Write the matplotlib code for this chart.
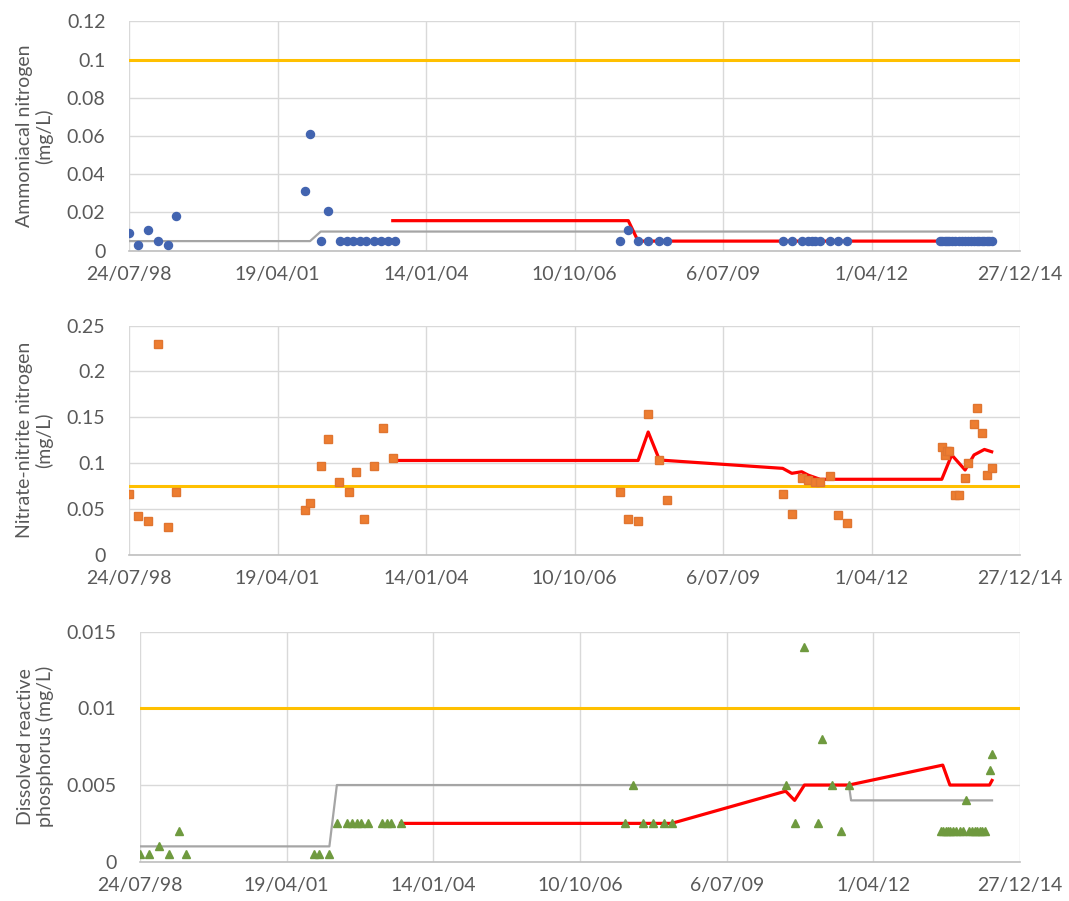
import numpy as np
import matplotlib
matplotlib.use('Agg')
import matplotlib.pyplot as plt
import matplotlib.dates as mdates
from matplotlib.ticker import FuncFormatter

plt.rcParams['font.family'] = ['Lato', 'DejaVu Sans']

# date axis, one major unit = 1000 days
tick_dates = ['1998-07-24', '2001-04-19', '2004-01-14', '2006-10-10',
              '2009-07-06', '2012-04-01', '2014-12-27']
tick_labels = ['24/07/98', '19/04/01', '14/01/04', '10/10/06',
               '6/07/09', '1/04/12', '27/12/14']

# ---- ammoniacal nitrogen (mg/L)
nh4_dates = ['1998-07-24', '1998-09-25', '1998-11-27', '1999-02-04', '1999-04-15', '1999-06-03',
             '2001-10-19', '2001-11-24', '2002-02-04', '2002-03-27', '2002-06-14', '2002-07-31',
             '2002-09-09', '2002-10-27', '2002-12-06', '2003-01-29', '2003-03-17', '2003-05-03',
             '2003-06-19',
             '2007-08-14', '2007-10-07', '2007-12-12', '2008-02-18', '2008-05-04', '2008-06-25',
             '2010-08-12', '2010-10-12', '2010-12-18', '2011-01-31', '2011-02-23', '2011-03-18',
             '2011-04-20', '2011-06-27', '2011-08-21', '2011-10-17',
             '2013-07-04', '2013-07-18', '2013-08-09', '2013-08-20', '2013-09-05', '2013-09-23',
             '2013-10-15', '2013-11-11', '2013-12-02', '2013-12-22', '2014-01-13', '2014-01-31',
             '2014-02-20', '2014-03-10', '2014-03-27', '2014-04-13', '2014-05-01', '2014-05-17',
             '2014-06-02', '2014-06-19']
nh4_vals = [0.009, 0.003, 0.011, 0.005, 0.003, 0.018,
            0.031, 0.061, 0.005, 0.021, 0.005, 0.005,
            0.005, 0.005, 0.005, 0.005, 0.005, 0.005,
            0.005,
            0.005, 0.011, 0.005, 0.005, 0.005, 0.005,
            0.005, 0.005, 0.005, 0.005, 0.005, 0.005,
            0.005, 0.005, 0.005, 0.005,
            0.005, 0.005, 0.005, 0.005, 0.005, 0.005,
            0.005, 0.005, 0.005, 0.005, 0.005, 0.005,
            0.005, 0.005, 0.005, 0.005, 0.005, 0.005,
            0.005, 0.005]
nh4_trend_dates = ['2003-06-04', '2007-10-07', '2007-12-12', '2014-06-19']
nh4_trend_vals = [0.0157, 0.0157, 0.005, 0.005]
nh4_limit_dates = ['1998-07-24', '2001-11-24', '2002-02-04', '2014-06-19']
nh4_limit_vals = [0.005, 0.005, 0.010, 0.010]
nh4_guideline = 0.1

# ---- nitrate-nitrite nitrogen (mg/L)
nox_dates = ['1998-07-24', '1998-09-25', '1998-11-27', '1999-02-04', '1999-04-15', '1999-06-03',
             '2001-10-19', '2001-11-24', '2002-02-04', '2002-03-27', '2002-06-07', '2002-08-13',
             '2002-09-30', '2002-11-23', '2003-01-31', '2003-04-01', '2003-06-04',
             '2007-08-14', '2007-10-07', '2007-12-12', '2008-02-18', '2008-05-04', '2008-06-25',
             '2010-08-12', '2010-10-12', '2010-12-18', '2011-01-31', '2011-03-18', '2011-04-20',
             '2011-06-27', '2011-08-21', '2011-10-17',
             '2013-07-18', '2013-08-09', '2013-08-20', '2013-09-05', '2013-10-15', '2013-11-11',
             '2013-12-22', '2014-01-13', '2014-02-20', '2014-03-10', '2014-04-13', '2014-05-17',
             '2014-06-19']
nox_vals = [0.066, 0.043, 0.037, 0.230, 0.031, 0.069,
            0.049, 0.057, 0.097, 0.126, 0.080, 0.069,
            0.090, 0.039, 0.097, 0.138, 0.106,
            0.069, 0.039, 0.037, 0.154, 0.104, 0.060,
            0.067, 0.045, 0.084, 0.082, 0.079, 0.079,
            0.086, 0.044, 0.035,
            0.118, 0.109, 0.113, 0.113, 0.065, 0.065,
            0.084, 0.100, 0.143, 0.160, 0.133, 0.087,
            0.095]
nox_trend_dates = ['2003-06-04', '2007-12-12', '2008-02-18', '2008-05-04', '2010-08-12',
                   '2010-10-12', '2010-12-18', '2011-01-31', '2011-04-20', '2013-07-18',
                   '2013-09-23', '2013-12-22', '2014-02-20', '2014-05-01', '2014-06-19']
nox_trend_vals = [0.103, 0.103, 0.134, 0.1035, 0.0944,
                  0.089, 0.0907, 0.087, 0.0825, 0.0825,
                  0.109, 0.0926, 0.109, 0.115, 0.1125]
nox_guideline = 0.075

# ---- dissolved reactive phosphorus (mg/L)
drp_dates = ['1998-07-24', '1998-09-25', '1998-11-27', '1999-02-04', '1999-04-15', '1999-06-03',
             '2001-10-19', '2001-11-24', '2002-02-04', '2002-03-27', '2002-06-07', '2002-07-11',
             '2002-08-13', '2002-09-09', '2002-10-27', '2003-01-31', '2003-03-03', '2003-04-01',
             '2003-06-04',
             '2007-08-14', '2007-10-07', '2007-12-12', '2008-02-18', '2008-05-04', '2008-06-25',
             '2010-08-12', '2010-10-12', '2010-12-18', '2011-03-18', '2011-04-20', '2011-06-27',
             '2011-08-21', '2011-10-17',
             '2013-07-04', '2013-07-18', '2013-08-09', '2013-08-20', '2013-09-05', '2013-09-23',
             '2013-10-15', '2013-11-11', '2013-12-02', '2013-12-22', '2014-01-13', '2014-01-31',
             '2014-02-20', '2014-03-10', '2014-03-27', '2014-04-13', '2014-05-01', '2014-06-02',
             '2014-06-19']
drp_vals = [0.0005, 0.0005, 0.001, 0.0005, 0.002, 0.0005,
            0.0005, 0.0005, 0.0005, 0.0025, 0.0025, 0.0025,
            0.0025, 0.0025, 0.0025, 0.0025, 0.0025, 0.0025,
            0.0025,
            0.0025, 0.005, 0.0025, 0.0025, 0.0025, 0.0025,
            0.005, 0.0025, 0.014, 0.0025, 0.008, 0.005,
            0.002, 0.005,
            0.002, 0.002, 0.002, 0.002, 0.002, 0.002,
            0.002, 0.002, 0.002, 0.004, 0.002, 0.002,
            0.002, 0.002, 0.002, 0.002, 0.002, 0.006,
            0.007]
drp_trend_dates = ['2003-06-04', '2008-06-25', '2010-08-12', '2010-10-12', '2010-12-18',
                   '2011-10-17', '2013-07-18', '2013-09-05', '2014-06-02', '2014-06-19']
drp_trend_vals = [0.0025, 0.0025, 0.0046, 0.004, 0.005,
                  0.005, 0.0063, 0.005, 0.005, 0.0053]
drp_limit_dates = ['1998-07-24', '2002-02-04', '2002-03-27', '2011-10-17', '2011-11-01', '2014-06-19']
drp_limit_vals = [0.001, 0.001, 0.005, 0.005, 0.004, 0.004]
drp_guideline = 0.01

txt_col = '#595959'
grid_col = '#D9D9D9'


def to_num(dates):
    return mdates.datestr2num(dates)


def style_axes(ax, ymax, ystep, ylabel, label_x):
    ax.set_xlim(to_num(tick_dates[0]), to_num(tick_dates[-1]))
    ax.set_ylim(0, ymax)
    ax.set_xticks(to_num(tick_dates))
    ax.set_xticklabels(tick_labels)
    ax.set_yticks(np.arange(0, ymax + ystep / 2, ystep))
    ax.yaxis.set_major_formatter(FuncFormatter(lambda v, p: '0' if v == 0 else f'{v:g}'))
    ax.tick_params(axis='both', length=0, labelsize=14, colors=txt_col)
    ax.tick_params(axis='y', pad=17)
    ax.tick_params(axis='x', pad=11)
    ax.grid(True, color=grid_col, linewidth=1.0)
    ax.set_axisbelow(True)
    for s in ['top', 'left', 'right']:
        ax.spines[s].set_visible(False)
    ax.spines['bottom'].set_color('#BFBFBF')
    ax.spines['bottom'].set_linewidth(1.2)
    ax.set_ylabel(ylabel, fontsize=14, color=txt_col, va='center', ha='center', linespacing=1.15)
    ax.yaxis.set_label_coords(label_x, 0.5)


fig = plt.figure(figsize=(10.69, 9.01), dpi=100)
ax1 = fig.add_axes([0.1207, 0.7218, 0.8335, 0.2544])
ax2 = fig.add_axes([0.1207, 0.3840, 0.8335, 0.2547])
ax3 = fig.add_axes([0.1310, 0.0436, 0.8232, 0.2553])

# ammoniacal nitrogen
ax1.axhline(nh4_guideline, color='#FFC000', lw=2.2, zorder=2)
ax1.plot(to_num(nh4_limit_dates), nh4_limit_vals, color='#A5A5A5', lw=1.6, zorder=3)
ax1.plot(to_num(nh4_trend_dates), nh4_trend_vals, color='#FF0000', lw=2.3, zorder=4)
ax1.plot(to_num(nh4_dates), nh4_vals, 'o', color='#4264B0', ms=5.8, mec='#4264B0', zorder=5)
style_axes(ax1, 0.12, 0.02, 'Ammoniacal nitrogen\n(mg/L)', -0.106)

# nitrate-nitrite nitrogen
ax2.axhline(nox_guideline, color='#FFC000', lw=2.2, zorder=2)
ax2.plot(to_num(nox_trend_dates), nox_trend_vals, color='#FF0000', lw=2.3, zorder=4)
ax2.plot(to_num(nox_dates), nox_vals, 's', color='#ED7D31', ms=5.6, mec='#E07530', zorder=5)
style_axes(ax2, 0.25, 0.05, 'Nitrate-nitrite nitrogen\n(mg/L)', -0.106)

# dissolved reactive phosphorus
ax3.axhline(drp_guideline, color='#FFC000', lw=2.2, zorder=2)
ax3.plot(to_num(drp_limit_dates), drp_limit_vals, color='#A5A5A5', lw=1.6, zorder=3)
ax3.plot(to_num(drp_trend_dates), drp_trend_vals, color='#FF0000', lw=2.3, zorder=4)
ax3.plot(to_num(drp_dates), drp_vals, '^', color='#6F9A3F', ms=6, mec='#6F9A3F', zorder=5)
style_axes(ax3, 0.015, 0.005, 'Dissolved reactive\nphosphorus (mg/L)', -0.119)

fig.savefig('out.png', dpi=100, facecolor='white')
